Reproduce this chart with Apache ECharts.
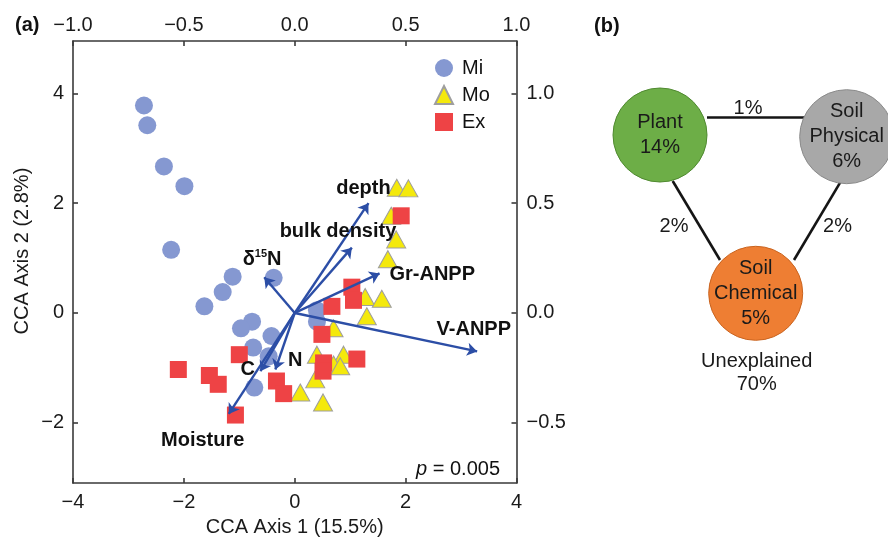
<!DOCTYPE html>
<html><head><meta charset="utf-8">
<script src="https://cdn.jsdelivr.net/npm/echarts@6/dist/echarts.min.js"></script>
<style>html,body{margin:0;padding:0;background:#fff}#c{width:888px;height:542px}</style>
</head><body><div id="c"></div>
<script>
const FONT = '"Liberation Sans", Arial, Helvetica, sans-serif';

// ---------- Panel (a): CCA site scores ----------
const miPoints = [[-2.72,3.78],[-2.66,3.42],[-2.36,2.67],[-1.99,2.31],[-2.23,1.15],[-1.12,0.66],[-1.30,0.38],[-1.63,0.12],[-0.38,0.64],[-0.77,-0.16],[-0.97,-0.28],[-0.42,-0.42],[-0.75,-0.63],[-0.47,-0.79],[-0.73,-1.36],[0.40,0.05],[0.40,-0.16]];
const moPoints = [[1.84,2.28],[2.05,2.27],[1.74,1.77],[1.83,1.34],[1.68,0.98],[1.27,0.29],[1.57,0.26],[1.30,-0.06],[0.70,-0.28],[0.40,-0.76],[0.88,-0.76],[0.70,-0.94],[0.82,-0.97],[0.37,-1.21],[0.10,-1.45],[0.51,-1.63]];
const exPoints = [[-2.10,-1.03],[-1.54,-1.14],[-1.38,-1.30],[-1.00,-0.76],[-1.07,-1.86],[-0.33,-1.24],[-0.20,-1.47],[0.49,-0.39],[0.52,-0.91],[0.51,-1.06],[0.67,0.12],[1.03,0.47],[1.06,0.23],[1.12,-0.84],[1.92,1.77]];
// Environmental vectors (biplot arrows, tip coordinates)
const envNames = ['depth','bulk density','Gr-ANPP','V-ANPP','δ15N','N','C','Moisture'];
const envVectors = [[1.33,2.00],[1.03,1.19],[1.53,0.72],[3.29,-0.70],[-0.55,0.65],[-0.35,-1.03],[-0.62,-1.06],[-1.19,-1.84]];
const envLabelAnchors = [[1.24,2.26],[0.78,1.48],[2.48,0.70],[3.23,-0.31],[-0.59,0.97],[0.01,-0.86],[-0.85,-1.03],[-1.66,-2.32]];
const xTicks = [-4,-2,0,2,4];
const yTicks = [-2,0,2,4];
const topTicks = [-1.0,-0.5,0.0,0.5,1.0];
const rightTicks = [-0.5,0.0,0.5,1.0];
const pValue = '0.005';

// ---------- Panel (b): variation partitioning ----------
const vpNames = ['Plant','Soil\nPhysical','Soil\nChemical'];
const vpUnique = [14,6,5];
const vpShared = [1,2,2];           // Plant–Physical, Plant–Chemical, Physical–Chemical
const vpUnexplained = 70;

// layout of the diagram (pixel-like units in a hidden grid)
const vpLayout = [[70,135],[256.7,136.7],[165.7,293.3]];
const vpConnectors = [[[117,117.3],[215,117.3]],[[82.7,181],[130,260]],[[250.7,181.7],[204,260]]];
const vpSharedLabelPos = [[158,108.3],[84,226.7],[247.5,226.7]];
const vpUnexplainedPos = [166.7,373.3];
const vpColors = ['#6DAE47','#A8A8A8','#EE7E33'];
const vpBorders = ['#4F8A30','#8A8A8A','#C9631F'];

const neg = v => (v < 0 ? '\u2212' : '') + Math.abs(v);
const neg1 = v => (v < 0 ? '\u2212' : '') + Math.abs(v).toFixed(1);

const axisLineStyle = {color:'#3a3a3a', width:1.6};
const lbl = {fontSize:20, fontFamily:FONT, color:'#1a1a1a'};

function mkAxis(extra, ticks, fmt, margin){
  return Object.assign({
    type:'value', splitLine:{show:false},
    axisLine:{show:true, onZero:false, lineStyle:axisLineStyle},
    axisTick:{show:true, inside:true, length:5, customValues:ticks, lineStyle:axisLineStyle},
    axisLabel:Object.assign({customValues:ticks, formatter:fmt, margin:margin, showMinLabel:true, showMaxLabel:true}, lbl)
  }, extra);
}

const invisible = {color:'rgba(0,0,0,0)', opacity:1};

const chart = echarts.init(document.getElementById('c'), null, {renderer:'canvas'});
chart.setOption({
  animation:false,
  backgroundColor:'#fff',
  title:[
    {text:'(a)', left:10, top:10, textStyle:{fontSize:20, fontWeight:'bold', fontFamily:FONT, color:'#111'}},
    {text:'(b)', left:589, top:11, textStyle:{fontSize:20, fontWeight:'bold', fontFamily:FONT, color:'#111'}},
    {text:'{i|p} = ' + pValue, right:383, top:454, textStyle:{fontSize:20, fontWeight:'normal', fontFamily:FONT, color:'#111',
      rich:{i:{fontStyle:'italic', fontWeight:'normal', fontSize:20, fontFamily:FONT, color:'#111'}}}}
  ],
  legend:{
    data:['Mi','Mo','Ex'], orient:'vertical', left:429, top:53,
    itemWidth:18, itemHeight:18, itemGap:7,
    textStyle:{fontSize:20, fontFamily:FONT, color:'#111', lineHeight:18, padding:[0,0,0,4]}
  },
  grid:[
    {left:73, right:371.5, top:41, bottom:54},
    {left:590, top:0, width:298, height:542}
  ],
  xAxis:[
    mkAxis({gridIndex:0, position:'bottom', min:-4, max:4,
      name:'CCA Axis 1 (15.5%)', nameLocation:'middle', nameGap:30,
      nameTextStyle:{fontSize:20, fontFamily:FONT, color:'#1a1a1a'}}, xTicks, neg, 9),
    mkAxis({gridIndex:0, position:'top', min:-1, max:1}, topTicks, neg1, 6),
    {type:'value', gridIndex:1, min:0, max:298, show:false}
  ],
  yAxis:[
    mkAxis({gridIndex:0, position:'left', min:-3.1, max:4.955,
      name:'CCA Axis 2 (2.8%)', nameLocation:'middle', nameGap:41,
      nameTextStyle:{fontSize:20, fontFamily:FONT, color:'#1a1a1a', padding:[0,0,0,22]}}, yTicks, neg, 9),
    mkAxis({gridIndex:0, position:'right', min:-0.775, max:1.23875}, rightTicks, neg1, 10),
    {type:'value', gridIndex:1, min:0, max:542, inverse:true, show:false}
  ],
  series:[
    {name:'Mi', type:'scatter', xAxisIndex:0, yAxisIndex:0, data:miPoints, symbol:'circle', symbolSize:18,
      itemStyle:{color:'#8598D1', opacity:1}, z:2},
    {name:'Mo', type:'scatter', xAxisIndex:0, yAxisIndex:0, data:moPoints, symbol:'triangle', symbolSize:[19,17],
      itemStyle:{color:'#F4E90C', borderColor:'#9E9E9E', borderWidth:1, opacity:1}, z:2},
    {name:'Ex', type:'scatter', xAxisIndex:0, yAxisIndex:0, data:exPoints, symbol:'rect', symbolSize:17,
      itemStyle:{color:'#EE4345', opacity:1}, z:2},
    {name:'vectors', type:'lines', coordinateSystem:'cartesian2d', xAxisIndex:0, yAxisIndex:0,
      data:envVectors.map(v => ({coords:[[0,0], v]})),
      symbol:['none','arrow'], symbolSize:10,
      lineStyle:{color:'#2C4EA6', width:2.4, opacity:1}, z:3, silent:true},
    {name:'envLabels', type:'scatter', xAxisIndex:0, yAxisIndex:0,
      data:envLabelAnchors.map((p,i) => ({value:p, name:envNames[i]})),
      symbol:'circle', symbolSize:1, itemStyle:invisible, z:4, silent:true,
      label:{show:true, position:'inside',
        formatter: p => p.name === 'δ15N' ? '{b|δ}{s|15}{b|N}' : '{b|' + p.name + '}',
        rich:{
          b:{fontSize:20, fontWeight:'bold', fontFamily:FONT, color:'#111', lineHeight:22},
          s:{fontSize:11, fontWeight:'bold', fontFamily:FONT, color:'#111', verticalAlign:'top', lineHeight:22}
        }}},
    // Panel (b)
    {name:'connectors', type:'lines', coordinateSystem:'cartesian2d', xAxisIndex:2, yAxisIndex:2,
      data:vpConnectors.map(c => ({coords:c})), symbol:['none','none'],
      lineStyle:{color:'#151515', width:2.6, opacity:1}, z:2, silent:true},
    {name:'sharedLabels', type:'scatter', xAxisIndex:2, yAxisIndex:2,
      data:vpSharedLabelPos.map((p,i) => ({value:p.concat([vpShared[i]])})),
      symbolSize:1, itemStyle:invisible, silent:true, z:3,
      label:{show:true, position:'inside', formatter: p => p.value[2] + '%', fontSize:20, fontFamily:FONT, color:'#1a1a1a'}},
    {name:'components', type:'scatter', xAxisIndex:2, yAxisIndex:2,
      data:vpLayout.map((p,i) => ({value:p, name:vpNames[i], pct:vpUnique[i],
        itemStyle:{color:vpColors[i], borderColor:vpBorders[i], borderWidth:1, opacity:1}})),
      symbol:'circle', symbolSize:94, silent:true, z:3,
      label:{show:true, position:'inside', formatter: p => p.name + '\n' + p.data.pct + '%',
        fontSize:20, fontFamily:FONT, color:'#1a1a1a', lineHeight:25}},
    {name:'unexplained', type:'scatter', xAxisIndex:2, yAxisIndex:2,
      data:[{value:vpUnexplainedPos}], symbolSize:1, itemStyle:invisible, silent:true,
      label:{show:true, position:'inside', formatter:'Unexplained\n' + vpUnexplained + '%',
        fontSize:20, fontFamily:FONT, color:'#1a1a1a', lineHeight:23}}
  ]
});
</script>
</body></html>
